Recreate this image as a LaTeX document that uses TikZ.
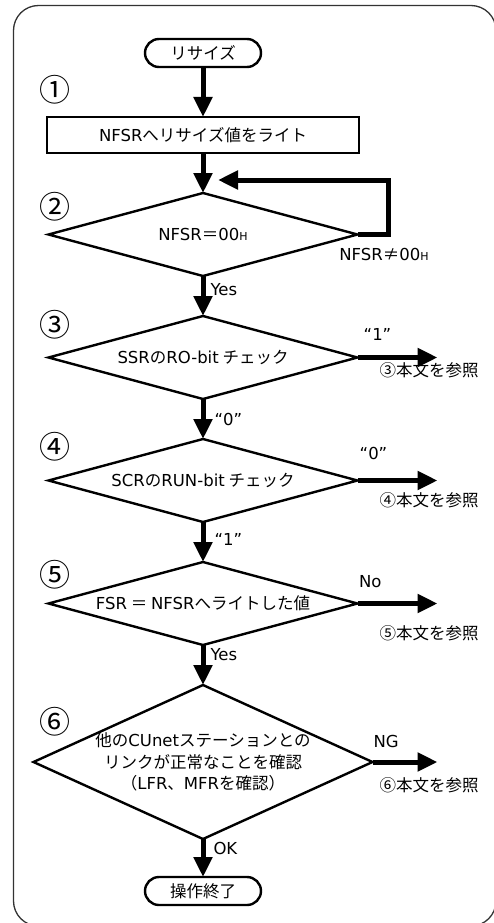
\documentclass[tikz,border=0pt]{standalone}
\usepackage{fontspec}
\setmainfont{Noto Sans CJK JP}
\newfontfamily\latfont{DejaVu Sans}
\newcommand\lt[1]{{\latfont #1}}
\usetikzlibrary{shapes.geometric,arrows.meta,positioning}

\begin{document}
\begin{tikzpicture}[x=1pt, y=-1pt,
  term/.style={draw, line width=2.4pt, rounded corners=14pt, minimum width=116pt,
               minimum height=28pt, inner sep=0pt, outer sep=0pt, font=\fontsize{16.5}{16.5}\selectfont},
  proc/.style={draw, line width=2.4pt, minimum width=312pt, minimum height=36pt,
               inner sep=0pt, outer sep=0pt, font=\fontsize{16.5}{16.5}\selectfont},
  dec/.style={draw, line width=2.4pt, diamond, aspect=3.7, minimum width=309pt,
              minimum height=83pt, inner sep=0pt, outer sep=0pt, font=\fontsize{16.5}{16.5}\selectfont},
  flow/.style={line width=5pt, -{Triangle[length=20pt, width=18pt]}},
  lbl/.style={font=\fontsize{16.5}{16.5}\latfont, inner sep=0pt},
  note/.style={font=\fontsize{16.5}{16.5}\selectfont, inner sep=0pt},
  num/.style={font=\fontsize{31}{31}\selectfont, inner sep=0pt},
  node distance=40pt
]
\useasboundingbox (0,0) rectangle (493,923);
% Frame
\draw[line width=1.3pt, black!80, rounded corners=25pt] (13.5,5.5) rectangle (496,926);
% Start
\node[term] (start) at (203,53) {リサイズ};
\node[proc, below=50pt of start] (write) {\lt{NFSR}へリサイズ値をライト};
% Checks
\node[dec, below=of write] (d2) {\lt{NFSR}＝\lt{00{\fontsize{11}{11}\selectfont H}}};
\node[dec, below=of d2] (d3) {\lt{SSR}の\lt{RO-bit} チェック};
\node[dec, below=of d3] (d4) {\lt{SCR}の\lt{RUN-bit} チェック};
\node[dec, below=of d4] (d5) {\lt{FSR} ＝ \lt{NFSR}へライトした値};
\node[dec, aspect=2.2, minimum width=339pt, minimum height=154pt, below=of d5] (d6) {};
\node[note, align=center, font=\fontsize{16.5}{21.5}\selectfont] (d6t) at (d6)
  {他の\lt{CUnet}ステーションとの\\リンクが正常なことを確認\\（\lt{LFR}、\lt{MFR}を確認）};
% End
\node[term, below=38pt of d6] (stop) {操作終了};
% Step numbers
\node[num] (n1) at (55,90) {①};
\node[num] (n2) at (55,207) {②};
\node[num] (n3) at (55,325) {③};
\node[num] (n4) at (55,447) {④};
\node[num] (n5) at (55,575) {⑤};
\node[num] (n6) at (55,722) {⑥};
% Side exits
\path (d3.east) ++(80,0) coordinate (x3);
\path (d4.east) ++(80,0) coordinate (x4);
\path (d5.east) ++(80,0) coordinate (x5);
\path (d6.east) ++(65,0) coordinate (x6);
\node[note] (r3) at (429,370) {③本文を参照};
\node[note] (r4) at (429,500) {④本文を参照};
\node[note] (r5) at (429,633) {⑤本文を参照};
\node[note] (r6) at (429,785) {⑥本文を参照};
% Loop back
\coordinate (loopx) at (388,180);
\coordinate (back) at (218,180);
\node[note] (neq) at (384,254) {\lt{NFSR}≠\lt{00{\fontsize{11}{11}\selectfont H}}};
% Connections
\draw[flow] (start) -- (write);
\draw[flow] (write) -- (d2);
\draw[flow] (d2.east) -| (loopx) -- (back);
\draw[flow] (d2) -- node[lbl, right=5pt, pos=0.33]{Yes} (d3);
\draw[flow] (d3) -- node[lbl, right=9pt, pos=0.5]{“0”} (d4);
\draw[flow] (d4) -- node[lbl, right=9pt, pos=0.43]{“1”} (d5);
\draw[flow] (d5) -- node[lbl, right=5pt, pos=0.23]{Yes} (d6);
\draw[flow] (d6) -- node[lbl, right=8pt, pos=0.26]{OK} (stop);
\draw[flow] (d3.east) -- node[lbl, above=15pt, pos=0.25]{“1”} (x3);
\draw[flow] (d4.east) -- node[lbl, above=18pt, pos=0.2]{“0”} (x4);
\draw[flow] (d5.east) -- node[lbl, above=13pt, pos=0.16]{No} (x5);
\draw[flow] (d6.east) -- node[lbl, above=12pt, pos=0.21]{NG} (x6);
\end{tikzpicture}
\end{document}
